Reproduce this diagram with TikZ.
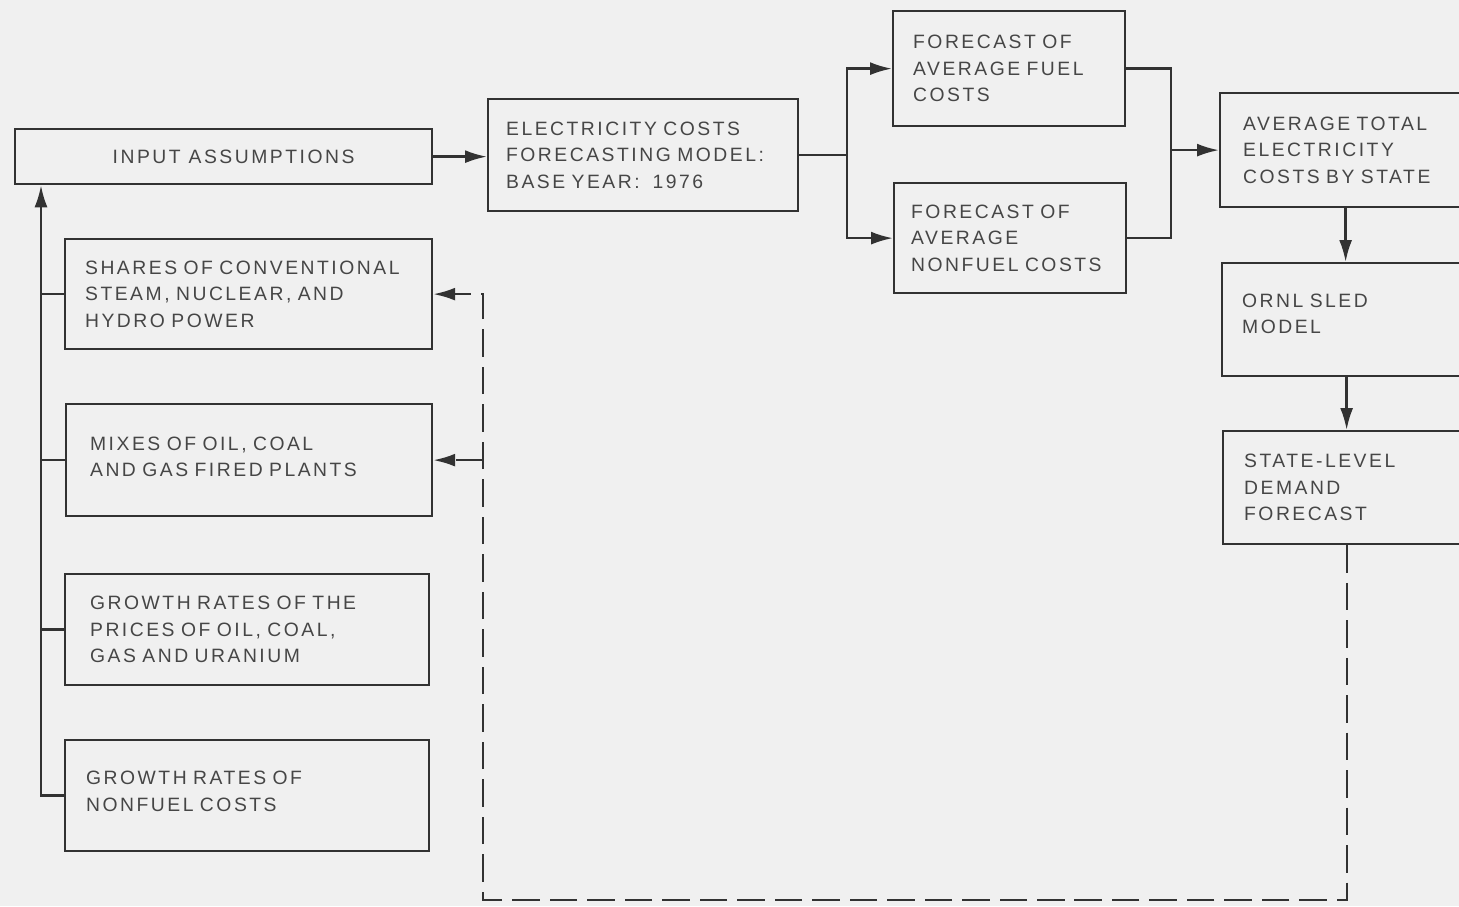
\documentclass[tikz,border=0pt]{standalone}
\usepackage{fontspec}
\setmainfont{Liberation Sans}[LetterSpace=13]
\usetikzlibrary{arrows.meta}
\definecolor{bg}{RGB}{240,240,240}
\definecolor{ln}{RGB}{50,50,50}
\definecolor{tx}{RGB}{70,70,70}
\tikzset{
  pbox/.style={draw=ln, line width=1.3pt, anchor=north west, inner ysep=0pt, align=left, text=tx,
    font=\fontsize{11}{15}\selectfont},
  conn/.style={draw=ln, line width=1.4pt},
  tip/.style={-{Latex[length=0.44cm,width=0.26cm]}},
  arr/.style={conn, tip},
  dashline/.style={conn, dash pattern=on 0.55cm off 0.2cm}
}
\begin{document}
\begin{tikzpicture}[x=0.02cm,y=-0.02cm]
\useasboundingbox (0,0) rectangle (1459,906);
\clip (0,0) rectangle (1459,906);
\fill[bg] (0,0) rectangle (1459,906);

% boxes
\node[pbox, align=center, minimum width=8.34cm, minimum height=1.1cm, inner xsep=0pt] (inp) at (14,128) {\hspace*{0.4cm}INPUT ASSUMPTIONS};
\node[pbox, minimum height=2.24cm, text width=5.48cm, inner xsep=0.36cm] (model) at (487,98)
  {ELECTRICITY COSTS\\FORECASTING MODEL:\\BASE YEAR:\ \ 1976};
\node[pbox, minimum height=2.30cm, text width=3.84cm, inner xsep=0.40cm] (fuel) at (892,10)
  {FORECAST OF\\AVERAGE FUEL\\COSTS};
\node[pbox, minimum height=2.20cm, text width=3.96cm, inner xsep=0.34cm] (nonfuel) at (893,182)
  {FORECAST OF\\AVERAGE\\NONFUEL COSTS};
\node[pbox, minimum height=2.28cm, text width=4.10cm, inner xsep=0.46cm] (avg) at (1219,92)
  {AVERAGE TOTAL\\ELECTRICITY\\COSTS BY STATE};
\node[pbox, minimum height=2.26cm, text width=4.18cm, inner xsep=0.40cm] (ornl) at (1221,262)
  {ORNL SLED\\MODEL\\[-8pt]\mbox{}};
\node[pbox, minimum height=2.26cm, text width=4.12cm, inner xsep=0.42cm] (state) at (1222,430)
  {STATE-LEVEL\\DEMAND\\FORECAST};
\node[pbox, minimum height=2.20cm, text width=6.54cm, inner xsep=0.40cm] (shares) at (64,238)
  {SHARES OF CONVENTIONAL\\STEAM, NUCLEAR, AND\\HYDRO POWER};
\node[pbox, minimum height=2.24cm, text width=6.36cm, inner xsep=0.48cm] (mixes) at (65,403)
  {MIXES OF OIL, COAL\\AND GAS FIRED PLANTS\\[-11.5pt]\mbox{}};
\node[pbox, minimum height=2.22cm, text width=6.28cm, inner xsep=0.50cm] (gprices) at (64,573)
  {GROWTH RATES OF THE\\PRICES OF OIL, COAL,\\GAS AND URANIUM};
\node[pbox, minimum height=2.22cm, text width=6.44cm, inner xsep=0.42cm] (gnon) at (64,739)
  {GROWTH RATES OF\\NONFUEL COSTS\\[-10pt]\mbox{}};

% helper coordinates
\coordinate (xl) at (847,0);
\coordinate (xr) at (1171,0);
\coordinate (bx) at (41,0);
\coordinate (d1) at (483,900);

% main flow
\draw[arr] (inp.east) -- (inp.east -| model.west);
\draw[conn] (model.east) -- (model.east -| xl);
\draw[arr] (model.east -| xl) |- (fuel.west);
\draw[arr] (model.east -| xl) |- (nonfuel.west);
\draw[conn] (fuel.east) -| (avg.west -| xr) |- (nonfuel.east);
\draw[arr] (avg.west -| xr) -- (avg.west);
\draw[arr] (avg.south) -- (avg.south |- ornl.north);
\draw[arr] (ornl.south) -- (ornl.south |- state.north);

% left bus
\draw[arr] (gnon.west) -| (bx |- inp.south);
\draw[conn] (bx |- shares.west) -- (shares.west);
\draw[conn] (bx |- mixes.west) -- (mixes.west);
\draw[conn] (bx |- gprices.west) -- (gprices.west);

% dashed feedback
\draw[dashline, tip] (state.south) -- (state.south |- d1) -- (d1) -- (d1 |- shares.east) -- (shares.east);
\draw[dashline, tip] (d1 |- mixes.east) -- (mixes.east);
\end{tikzpicture}
\end{document}
